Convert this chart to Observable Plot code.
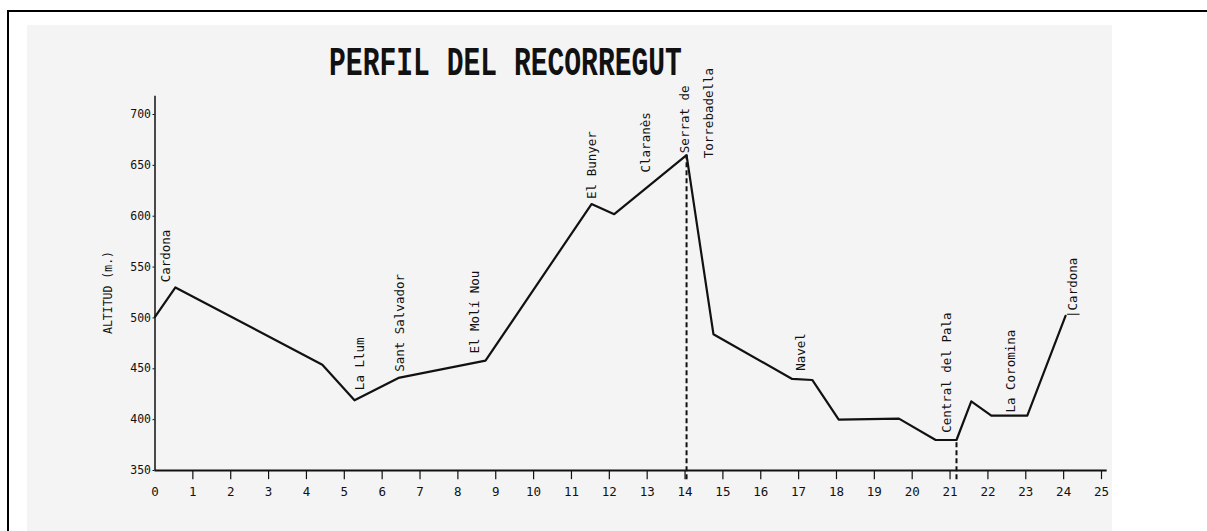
<!DOCTYPE html>
<html>
<head>
<meta charset="utf-8">
<script src="https://cdn.jsdelivr.net/npm/d3@7"></script>
<script src="https://cdn.jsdelivr.net/npm/@observablehq/plot@0.6"></script>
<style>
  html, body { margin: 0; padding: 0; background: #fff; }
  #page { position: relative; width: 1207px; height: 531px; overflow: hidden; background: #fff; }
  #frame { position: absolute; left: 7px; top: 10px; width: 1210px; height: 530px; border-left: 2px solid #000; border-top: 2px solid #000; }
  #paper { position: absolute; left: 27px; top: 25px; width: 1085px; height: 520px; background: #f4f4f4; }
  #title { position: absolute; left: 0; width: 1011px; top: 45px; text-align: center; font-family: "Liberation Mono", "DejaVu Sans Mono", monospace; font-weight: bold; font-size: 28px; line-height: 28px; color: #111; transform-origin: 50% 0; transform: scale(1, 1.45); white-space: pre; }
  #chart { position: absolute; left: 0; top: 0; }
</style>
</head>
<body>
<div id="page">
  <div id="paper"></div>
  <div id="frame"></div>
  <div id="title">PERFIL DEL RECORREGUT</div>
  <div id="chart"></div>
</div>
<script>
// Route profile: distance (km) and altitude (m)
const km  = [0.0, 0.54, 4.42, 5.27, 6.43, 8.73, 11.53, 12.13, 14.04, 14.75, 16.83, 17.36, 18.06, 19.65, 20.62, 21.17, 21.56, 22.09, 23.04, 24.05];
const alt = [501, 530, 454, 419, 441, 458, 612, 602, 660, 484, 440, 439, 400, 401, 380, 380, 418, 404, 404, 502];

// Place names
const labelNames = ["Cardona", "La Llum", "Sant Salvador", "El Molí Nou", "El Bunyer", "Claranès", "Serrat de", "Torrebadella", "Navel", "Central del Pala", "La Coromina", "|Cardona"];
const labelKm    = [0.28, 5.41, 6.48, 8.44, 11.55, 12.98, 13.99, 14.62, 17.07, 20.92, 22.62, 24.25];
const labelAlt   = [535, 429, 447, 465, 617, 643, 662, 657, 448, 387, 407, 500];

// Dashed markers (km, altitude at top)
const markerKm  = [14.04, 21.17];
const markerAlt = [660, 380];

// Axis ticks
const xTicks = d3.range(0, 26);
const yTicks = [350, 400, 450, 500, 550, 600, 650, 700];
const yLabel = "ALTITUD (m.)";

const profile = km.map((k, i) => ({km: k, alt: alt[i]}));
const labels = labelNames.map((n, i) => ({name: n, km: labelKm[i], alt: labelAlt[i]}));
const markers = markerKm.map((k, i) => ({km: k, alt: markerAlt[i]}));

const ink = "#111";

const chart = Plot.plot({
  width: 1207,
  height: 531,
  marginLeft: 154.5,
  marginRight: 106,
  marginTop: 114,
  marginBottom: 61,
  x: {domain: [0, 25]},
  y: {domain: [350, 700]},
  style: {background: "transparent", fontFamily: "'DejaVu Sans Mono', monospace", color: ink},
  marks: [
    Plot.axisY(yTicks, {tickSize: 2, tickPadding: 2, fontSize: 11.5, label: null, stroke: ink}),
    Plot.axisX(xTicks, {tickSize: 0, tickPadding: 17, fontSize: 12.5, label: null}),
    Plot.ruleX(xTicks.slice(1), {x: d => d, y1: 350, y2: 341, stroke: ink, strokeWidth: 1.2}),
    Plot.ruleY([350], {x1: 0, x2: 25.15, stroke: ink, strokeWidth: 1.8}),
    Plot.ruleX([0], {y1: 350, y2: 718, stroke: ink, strokeWidth: 1.5}),
    Plot.ruleX(markers, {x: "km", y1: 341, y2: "alt", stroke: ink, strokeWidth: 2, strokeDasharray: "5,3"}),
    Plot.line(profile, {x: "km", y: "alt", stroke: ink, strokeWidth: 2.2}),
    Plot.text(labels, {x: "km", y: "alt", text: "name", rotate: -90, textAnchor: "start", lineAnchor: "middle", fontSize: 12.5, fill: ink}),
    Plot.text([yLabel], {frameAnchor: "left", dx: -47, rotate: -90, textAnchor: "middle", fontSize: 11.5, fill: ink})
  ]
});
document.getElementById("chart").appendChild(chart);
</script>
</body>
</html>
